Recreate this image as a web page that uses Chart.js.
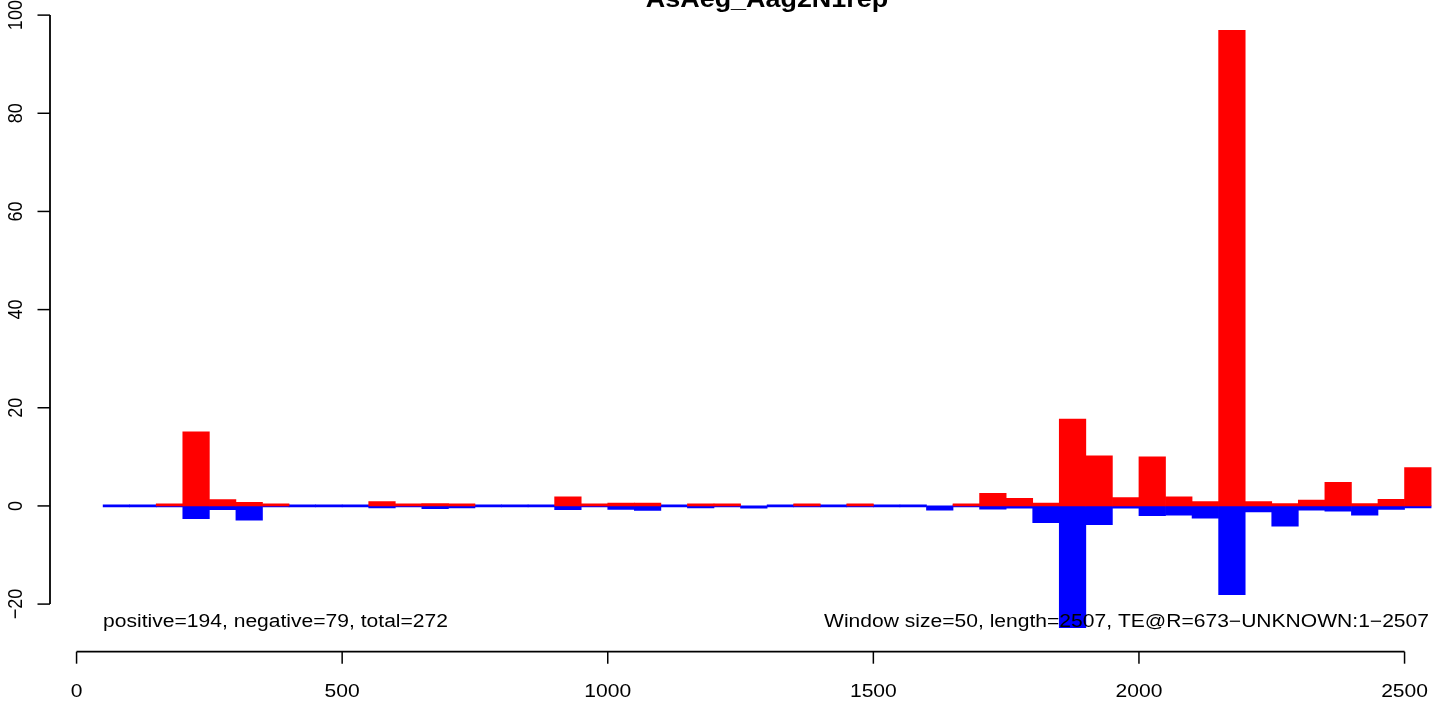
<!DOCTYPE html>
<html>
<head>
<meta charset="utf-8">
<title>AsAeg_Aag2N1rep</title>
<script src="https://cdn.jsdelivr.net/npm/chart.js@4/dist/chart.umd.min.js"></script>
<style>
  html, body { margin: 0; padding: 0; background: #fff; overflow: hidden; }
  #wrap { width: 1436px; height: 702px; }
</style>
</head>
<body>
<div id="wrap"><canvas id="chart" width="1436" height="702"></canvas></div>
<script>
/* ---- data ---- */
const chartTitle = 'AsAeg_Aag2N1rep';
const windowStart = [
  50, 100, 150, 200, 250, 300, 350, 400, 450, 500,
  550, 600, 650, 700, 750, 800, 850, 900, 950, 1000,
  1050, 1100, 1150, 1200, 1250, 1300, 1350, 1400, 1450, 1500,
  1550, 1600, 1650, 1700, 1750, 1800, 1850, 1900, 1950, 2000,
  2050, 2100, 2150, 2200, 2250, 2300, 2350, 2400, 2450, 2500
];
const windowSize = 50;
// sense strand hits (red), null = no hits in that window
const positiveHits = [
  null, null, 0.15, 15.1, 1.3, 0.75, 0.15, null, null, null,
  0.9, 0.35, 0.5, 0.3, null, null, null, 1.85, 0.2, 0.6,
  0.6, null, 0.3, 0.15, null, null, 0.15, null, 0.15, null,
  null, null, 0.2, 2.55, 1.55, 0.6, 17.7, 10.2, 1.7, 10.0,
  1.85, 0.9, 96.9, 0.9, 0.5, 1.2, 4.8, 0.5, 1.35, 7.8
];
// antisense strand hits (blue)
const negativeHits = [
  0, 0, 0, -2.6, -0.75, -2.9, 0, 0, 0, 0,
  -0.1, 0, -0.55, -0.3, 0, 0, 0, -0.75, 0, -0.7,
  -0.9, 0, -0.3, 0, -0.45, 0, 0, 0, 0, 0,
  0, -0.85, 0, -0.65, -0.45, -3.4, -24.8, -3.8, -0.45, -2.0,
  -1.9, -2.5, -18.1, -1.2, -4.1, -0.85, -1.05, -1.9, -0.7, -0.1
];
const xTicks = [0, 500, 1000, 1500, 2000, 2500];
const yTicks = [-20, 0, 20, 40, 60, 80, 100];
const leftNote = 'positive=194, negative=79, total=272';
const rightNote = 'Window size=50, length=2507, TE@R=673\u2212UNKNOWN:1\u22122507';

/* ---- helpers ---- */
const SX = 1.17;           // the source render is stretched horizontally
const FONT = '"Liberation Sans", Arial, sans-serif';

function drawText(ctx, str, x, y, align, rotated) {
  ctx.save();
  ctx.translate(x, y);
  ctx.scale(SX, 1);
  if (rotated) ctx.rotate(-Math.PI / 2);
  ctx.textAlign = align;
  ctx.textBaseline = 'alphabetic';
  ctx.fillText(str, 0, 0);
  ctx.restore();
}

const toPoints = (vals) => windowStart.map((s, i) => ({ x: s + windowSize / 2, y: vals[i] }));

// R style axes, title and margin notes
const rAxes = {
  id: 'rAxes',
  beforeDraw(chart) {
    const ctx = chart.ctx;
    ctx.save();
    ctx.fillStyle = '#fff';
    ctx.fillRect(0, 0, chart.width, chart.height);
    ctx.restore();
  },
  afterDraw(chart) {
    const { ctx, scales: { x, y }, chartArea } = chart;
    ctx.save();
    ctx.strokeStyle = '#000';
    ctx.fillStyle = '#000';

    // x axis
    const axY = chartArea.bottom;
    ctx.lineWidth = 1.8;
    ctx.beginPath();
    ctx.moveTo(x.getPixelForValue(xTicks[0]), axY);
    ctx.lineTo(x.getPixelForValue(xTicks[xTicks.length - 1]), axY);
    ctx.stroke();
    ctx.lineWidth = 1.5;
    xTicks.forEach(v => {
      const px = x.getPixelForValue(v);
      ctx.beginPath();
      ctx.moveTo(px, axY);
      ctx.lineTo(px, axY + 12);
      ctx.stroke();
    });
    ctx.font = '18px ' + FONT;
    xTicks.forEach(v => drawText(ctx, String(v), x.getPixelForValue(v), 696.5, 'center', false));

    // y axis
    const axX = chartArea.left;
    ctx.lineWidth = 1.8;
    ctx.beginPath();
    ctx.moveTo(axX, y.getPixelForValue(yTicks[0]));
    ctx.lineTo(axX, y.getPixelForValue(yTicks[yTicks.length - 1]));
    ctx.stroke();
    ctx.lineWidth = 1.5;
    yTicks.forEach(v => {
      const py = y.getPixelForValue(v);
      ctx.beginPath();
      ctx.moveTo(axX, py);
      ctx.lineTo(axX - 12.5, py);
      ctx.stroke();
      const lbl = v < 0 ? '\u2212' + Math.abs(v) : String(v);
      drawText(ctx, lbl, 22, py, 'center', true);
    });

    // notes inside the plot
    ctx.font = '18px ' + FONT;
    drawText(ctx, leftNote, x.getPixelForValue(windowStart[0]), 626.5, 'left', false);
    drawText(ctx, rightNote, 1429, 626.5, 'right', false);

    // title, partly cut off at the top like the source
    ctx.font = 'bold 23px ' + FONT;
    drawText(ctx, chartTitle, 767, 7, 'center', false);
    ctx.restore();
  }
};

new Chart(document.getElementById('chart').getContext('2d'), {
  type: 'bar',
  data: {
    datasets: [
      {
        label: 'positive',
        data: toPoints(positiveHits),
        backgroundColor: '#ff0000',
        borderWidth: 0,
        minBarLength: 2,
        grouped: false,
        barPercentage: 1,
        categoryPercentage: 1
      },
      {
        label: 'negative',
        data: toPoints(negativeHits),
        backgroundColor: '#0000ff',
        borderWidth: 0,
        minBarLength: 2,
        grouped: false,
        barPercentage: 1,
        categoryPercentage: 1
      }
    ]
  },
  options: {
    responsive: false,
    devicePixelRatio: 1,
    animation: false,
    layout: { padding: { top: 5.3, left: 50, right: 0, bottom: 50.3 } },
    plugins: { legend: { display: false }, tooltip: { enabled: false }, title: { display: false } },
    scales: {
      x: { type: 'linear', display: false, offset: false, grid: { offset: false }, min: -50, max: 2559.2 },
      y: { type: 'linear', display: false, min: -29.7, max: 102 }
    }
  },
  plugins: [rAxes]
});
</script>
</body>
</html>
